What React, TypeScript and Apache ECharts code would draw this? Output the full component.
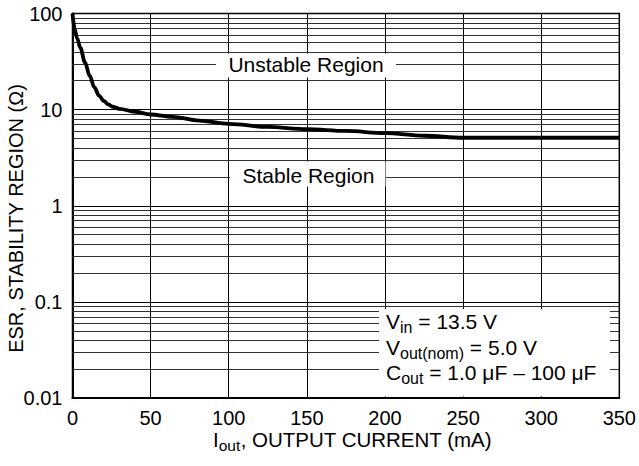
import React, { useEffect, useRef } from "react";
import * as echarts from "echarts";

// ---- data ----
const CURRENT_MA = [0, 1.5, 3, 5, 8, 11, 14, 17, 20, 23, 26, 30, 40, 50, 64, 81, 100, 125, 150, 175, 200, 225, 250, 275, 300, 325, 350];
const ESR_OHM = [100, 68, 55, 44, 31, 22.5, 17, 14, 12.3, 11.3, 10.7, 10.2, 9.5, 8.9, 8.4, 7.7, 7.1, 6.6, 6.25, 6.0, 5.7, 5.35, 5.1, 5.1, 5.1, 5.1, 5.1];
const X_MIN = 0;
const X_MAX = 350;
const X_STEP = 50;
const Y_MIN = 0.01;
const Y_MAX = 100;
const DECADES = [0.01, 0.1, 1, 10];
const MINOR_MULTS = [2, 3, 4, 5, 6, 7, 8, 9];
const Y_TICK_LABELS: Record<string, string> = { "0.01": "0.01", "0.1": "0.1", "1": "1", "10": "10", "100": "100" };

const FONT = "'Liberation Sans', Arial, Helvetica, sans-serif";

const richSub = (main: number, sub: number) => ({
  m: { fontSize: main, lineHeight: main + 1, verticalAlign: "top", fontFamily: FONT, color: "#000" },
  s: { fontSize: sub, lineHeight: sub, padding: [Math.round(main * 0.38), 0, 0, 0], verticalAlign: "top", fontFamily: FONT, color: "#000" },
});

export default function App() {
  const ref = useRef<HTMLDivElement>(null);
  useEffect(() => {
    if (!ref.current) return;
    const chart = echarts.init(ref.current, null, { renderer: "svg" });
    const minorLines: { yAxis: number }[] = [];
    DECADES.forEach((d) => MINOR_MULTS.forEach((m) => minorLines.push({ yAxis: Number((d * m).toPrecision(2)) })));

    const textStyle = (x: number, y: number, text: string, rich?: any, align = "left", size = 21) => ({
      type: "text",
      z: 20,
      x,
      y,
      style: {
        text,
        rich,
        fill: "#000",
        fontSize: size,
        fontFamily: FONT,
        align,
        textAlign: align,
        verticalAlign: "middle",
        textVerticalAlign: "middle",
      },
    });

    chart.setOption({
      animation: false,
      backgroundColor: "#fff",
      grid: { left: 72.5, top: 13.5, right: 18, bottom: 68, show: true, borderColor: "#000", borderWidth: 1.5, backgroundColor: "transparent" },
      xAxis: {
        type: "value",
        min: X_MIN,
        max: X_MAX,
        interval: X_STEP,
        axisLine: { show: true, lineStyle: { color: "#000", width: 2 } },
        axisTick: { show: false },
        axisLabel: { color: "#000", fontSize: 20, fontFamily: FONT, margin: 10 },
        splitLine: { show: true, lineStyle: { color: "#000", width: 1 } },
      },
      yAxis: {
        type: "log",
        logBase: 10,
        min: Y_MIN,
        max: Y_MAX,
        splitNumber: 4,
        axisLine: { show: true, onZero: false, lineStyle: { color: "#000", width: 2 } },
        axisTick: { show: false },
        axisLabel: {
          color: "#000",
          fontSize: 20,
          fontFamily: FONT,
          margin: 10,
          formatter: (v: number) => Y_TICK_LABELS[String(Number(v.toPrecision(3)))] ?? String(Number(v.toPrecision(3))),
        },
        splitLine: { show: true, lineStyle: { color: "#000", width: 1 } },
      },
      series: [
        {
          type: "line",
          data: CURRENT_MA.map((x, i) => [x, ESR_OHM[i]]),
          showSymbol: false,
          smooth: 0.35,
          smoothMonotone: "x",
          lineStyle: { color: "#000", width: 3.8 },
          z: 5,
          markLine: {
            silent: true,
            symbol: ["none", "none"],
            label: { show: false },
            lineStyle: { type: "solid", color: "#333", width: 1 },
            data: minorLines,
            z: 1,
          },
        },
      ],
      graphic: [
        { type: "rect", z: 15, shape: { x: 216, y: 53.5, width: 180, height: 24 }, style: { fill: "#fff" } },
        { type: "rect", z: 15, shape: { x: 230, y: 161.5, width: 155.5, height: 25 }, style: { fill: "#fff" } },
        { type: "rect", z: 15, shape: { x: 379, y: 309, width: 231, height: 87.5 }, style: { fill: "#fff" } },
        textStyle(306, 64.5, "Unstable Region", undefined, "center"),
        textStyle(308.5, 175, "Stable Region", undefined, "center"),
        textStyle(386, 322, "{m|V}{s|in}{m| = 13.5 V}", richSub(21, 16)),
        textStyle(386, 348, "{m|V}{s|out(nom)}{m| = 5.0 V}", richSub(21, 16)),
        textStyle(386, 373, "{m|C}{s|out}{m| = 1.0 \u03bcF \u2013 100 \u03bcF}", richSub(21, 16)),
        textStyle(352.5, 440, "{m|I}{s|out}{m|, OUTPUT CURRENT (mA)}", richSub(20.5, 15.5), "center", 20.5),
        {
          type: "text",
          z: 20,
          x: 16,
          y: 218.5,
          rotation: Math.PI / 2,
          style: {
            text: "ESR, STABILITY REGION (\u03a9)",
            fill: "#000",
            fontSize: 20,
            fontFamily: FONT,
            align: "center",
            textAlign: "center",
            verticalAlign: "middle",
            textVerticalAlign: "middle",
          },
        },
      ],
    });
    return () => chart.dispose();
  }, []);
  return <div ref={ref} style={{ position: "fixed", left: 0, top: 0, width: 639, height: 466 }} />;
}
